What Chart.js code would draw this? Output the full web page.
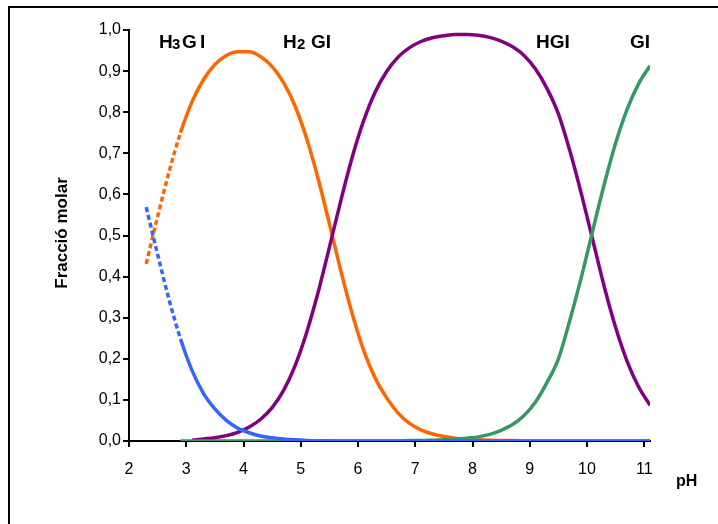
<!DOCTYPE html>
<html>
<head>
<meta charset="utf-8">
<script src="https://cdn.jsdelivr.net/npm/chart.js@4"></script>
<style>
  body { margin: 0; background: #fff; }
  canvas { display: block; }
</style>
</head>
<body>
<canvas id="myChart" width="718" height="524"></canvas>
<script>
const ctx = document.getElementById('myChart').getContext('2d');

// pH values (x)
const ph = [2.3, 2.5, 2.7, 2.9, 3.1, 3.3, 3.5, 3.7, 3.9, 4.1, 4.3, 4.5, 4.7, 4.9, 5.1,
  5.3, 5.5, 5.7, 5.9, 6.1, 6.3, 6.5, 6.7, 6.9, 7.1, 7.3, 7.5, 7.7, 7.9, 8.1,
  8.3, 8.5, 8.7, 8.9, 9.1, 9.3, 9.5, 9.7, 9.9, 10.1, 10.3, 10.5, 10.7, 10.9, 11.1];

// molar fractions
const h3gi = [0.569, 0.454, 0.344, 0.248, 0.172, 0.116, 0.078, 0.050, 0.031, 0.020, 0.012, 0.008, 0.005, 0.003, 0.0015,
  0.0008, 0.0004, 0, 0, 0, 0, 0, 0, 0, 0, 0, 0, 0, 0, 0,
  0, 0, 0, 0, 0, 0, 0, 0, 0, 0, 0, 0, 0, 0, 0];
const h2gi = [0.431, 0.546, 0.655, 0.750, 0.825, 0.879, 0.916, 0.938, 0.947, 0.947, 0.935, 0.911, 0.872, 0.815, 0.737,
  0.640, 0.529, 0.414, 0.309, 0.220, 0.153, 0.105, 0.068, 0.043, 0.027, 0.017, 0.011, 0.007, 0.004, 0.003,
  0.002, 0.001, 0.001, 0, 0, 0, 0, 0, 0, 0, 0, 0, 0, 0, 0];
const hgi = [null, null, null, null, 0.002, 0.005, 0.008, 0.013, 0.021, 0.034, 0.053, 0.081, 0.123, 0.183, 0.263,
  0.360, 0.471, 0.585, 0.691, 0.780, 0.849, 0.899, 0.934, 0.957, 0.972, 0.981, 0.986, 0.989, 0.989, 0.987,
  0.982, 0.973, 0.959, 0.938, 0.905, 0.858, 0.796, 0.706, 0.602, 0.489, 0.376, 0.276, 0.194, 0.132, 0.087];
const gi = [null, null, null, 0, 0, 0, 0, 0, 0, 0, 0, 0, 0, 0, 0,
  0, 0, 0, 0, 0, 0, 0, 0, 0.001, 0.001, 0.002, 0.003, 0.004, 0.007, 0.010,
  0.016, 0.026, 0.040, 0.062, 0.095, 0.142, 0.200, 0.294, 0.398, 0.512, 0.624, 0.725, 0.807, 0.869, 0.913];

// uncertain region (low pH) drawn dashed
const dashBelow = 2.9;

const toPoints = arr => arr.map((v, i) => ({ x: ph[i], y: v }));

const makeSet = (label, values, color, order) => ({
  label,
  data: toPoints(values),
  borderColor: color,
  backgroundColor: color,
  borderWidth: 3.5,
  pointRadius: 0,
  fill: false,
  cubicInterpolationMode: 'monotone',
  order,
  segment: {
    borderDash: c => (c.p1.parsed.x <= dashBelow ? [5, 3] : undefined)
  }
});

const decorations = {
  id: 'decorations',
  beforeDraw(chart) {
    const c = chart.ctx;
    c.save();
    c.fillStyle = '#fff';
    c.fillRect(0, 0, chart.width, chart.height);
    c.strokeStyle = '#000';
    c.lineWidth = 2;
    c.beginPath();
    c.moveTo(9, 530);
    c.lineTo(9, 7);
    c.lineTo(730, 7);
    c.stroke();
    c.restore();
  },
  afterDraw(chart) {
    const c = chart.ctx;
    c.save();
    c.fillStyle = '#000';
    c.textBaseline = 'alphabetic';
    c.textAlign = 'left';
    const big = 'bold 19px "Liberation Sans", Arial, sans-serif';
    const sub = 'bold 15px "Liberation Sans", Arial, sans-serif';
    // H3GI
    c.font = big; c.fillText('H', 159, 48);
    c.font = sub; c.fillText('3', 172, 49);
    c.font = big; c.fillText('G', 182, 48); c.fillText('I', 200, 48);
    // H2 GI
    c.font = big; c.fillText('H', 283, 48);
    c.font = sub; c.fillText('2', 297, 49);
    c.font = big; c.fillText('GI', 311, 48);
    // HGI, GI
    c.fillText('HGI', 536, 48);
    c.fillText('GI', 630, 48);
    // axis titles
    c.font = 'bold 16px "Liberation Sans", Arial, sans-serif';
    c.fillText('pH', 676, 486);
    c.font = 'bold 17px "Liberation Sans", Arial, sans-serif';
    c.translate(67, 233);
    c.rotate(-Math.PI / 2);
    c.textAlign = 'center';
    c.fillText('Fracció molar', 0, 0);
    c.restore();
  }
};

const chart = new Chart(ctx, {
  type: 'line',
  data: {
    datasets: [
      makeSet('H3GI', h3gi, '#3366FF', 0),
      makeSet('GI', gi, '#339966', 1),
      makeSet('HGI', hgi, '#800080', 2),
      makeSet('H2GI', h2gi, '#FF6600', 3)
    ]
  },
  options: {
    responsive: false,
    animation: false,
    devicePixelRatio: 1,
    layout: { padding: { top: 30, right: 68, left: 0, bottom: 0 } },
    plugins: {
      legend: { display: false },
      tooltip: { enabled: false }
    },
    scales: {
      x: {
        type: 'linear',
        min: 2,
        max: 11.1,
        afterFit: s => { s.height = 83; },
        border: { color: '#000', width: 2 },
        grid: { drawOnChartArea: false, drawTicks: true, tickLength: 6, color: '#000', lineWidth: 2 },
        ticks: {
          stepSize: 1,
          includeBounds: false,
          padding: 13,
          color: '#000',
          font: { family: '"Liberation Sans", Arial, sans-serif', size: 16 },
          maxRotation: 0
        }
      },
      y: {
        min: 0,
        max: 1,
        afterFit: s => { s.width = 129; },
        border: { color: '#000', width: 2 },
        grid: { drawOnChartArea: false, drawTicks: true, tickLength: 6, color: '#000', lineWidth: 2 },
        ticks: {
          stepSize: 0.1,
          padding: 2,
          color: '#000',
          font: { family: '"Liberation Sans", Arial, sans-serif', size: 16 },
          callback: v => v.toFixed(1).replace('.', ',')
        }
      }
    }
  },
  plugins: [decorations]
});
</script>
</body>
</html>
